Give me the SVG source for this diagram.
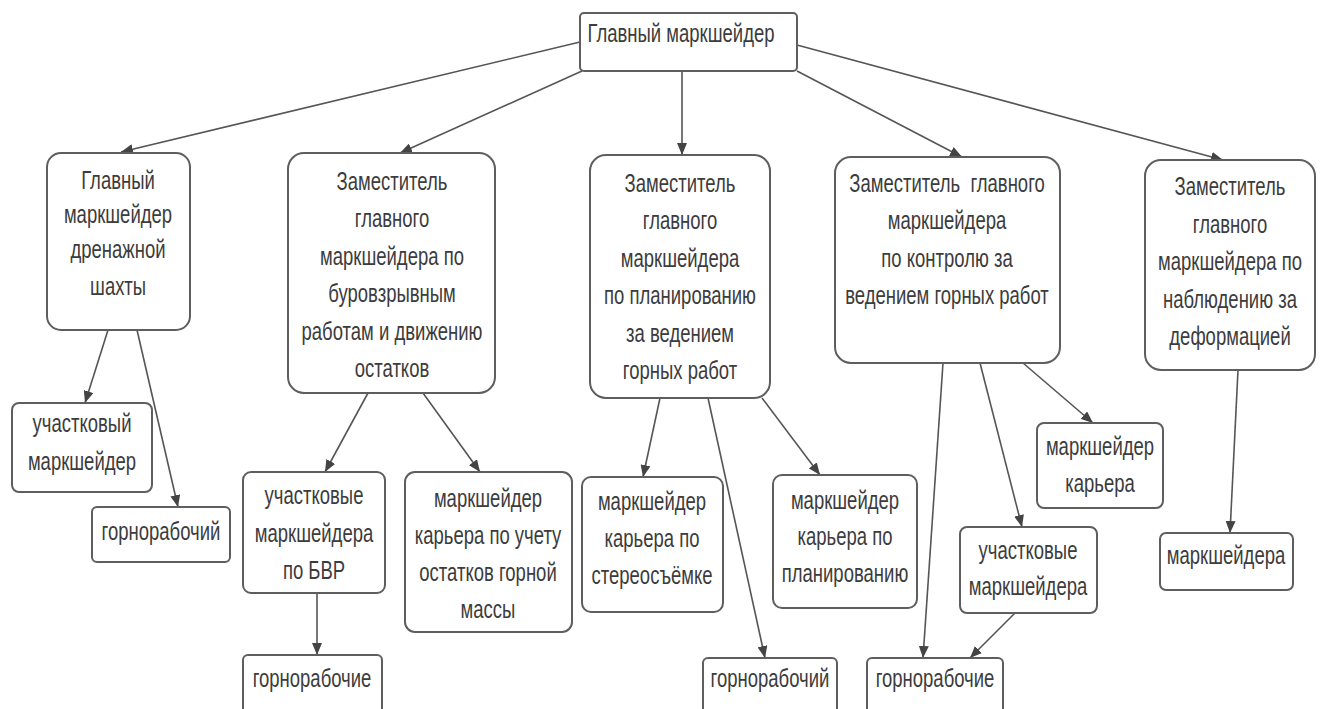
<svg xmlns="http://www.w3.org/2000/svg" width="1327" height="709" viewBox="0 0 1327 709">
<style>
.b{fill:#fff;stroke:#5e5e5e;stroke-width:2}
.t{font-family:"Liberation Sans",Arial,sans-serif;font-size:18.5px;fill:#3c3c3c;text-anchor:middle;white-space:pre}
.c line{stroke:#555;stroke-width:1.6;marker-end:url(#ah)}
</style>
<defs>
<marker id="ah" markerUnits="userSpaceOnUse" markerWidth="12" markerHeight="10" refX="12" refY="5" orient="auto"><path d="M0,0 L12,5 L0,10 z" fill="#444"/></marker>
</defs>
<rect width="1327" height="709" fill="#fff"/>
<g id="connectors" class="c">
<line x1="580" y1="42" x2="121" y2="152"/>
<line x1="582" y1="71" x2="400" y2="153"/>
<line x1="682" y1="71" x2="682" y2="155"/>
<line x1="797" y1="71" x2="962" y2="157"/>
<line x1="797" y1="45" x2="1223" y2="160"/>
<line x1="108" y1="330" x2="85" y2="403"/>
<line x1="137" y1="330" x2="178" y2="507"/>
<line x1="368" y1="393" x2="325" y2="472"/>
<line x1="423" y1="393" x2="480" y2="472"/>
<line x1="317" y1="593" x2="317" y2="655"/>
<line x1="660" y1="398" x2="643" y2="477"/>
<line x1="708" y1="398" x2="765" y2="658"/>
<line x1="762" y1="398" x2="820" y2="475"/>
<line x1="943" y1="363" x2="923" y2="658"/>
<line x1="980" y1="363" x2="1022" y2="527"/>
<line x1="1023" y1="363" x2="1093" y2="423"/>
<line x1="1015" y1="613" x2="970" y2="658"/>
<line x1="1238" y1="370" x2="1230" y2="533"/>
</g>
<g id="top"><rect class="b" x="580" y="13" width="217" height="58" rx="4"/>
<text class="t" transform="translate(681,42) scale(1,1.4)">Главный маркшейдер</text></g>
<g id="a"><rect class="b" x="47" y="153" width="143" height="177" rx="14"/>
<text class="t" transform="translate(118,189) scale(1,1.4)"><tspan x="0" y="0">Главный</tspan><tspan x="0" y="24.3">маркшейдер</tspan><tspan x="0" y="49.3">дренажной</tspan><tspan x="0" y="75.7">шахты</tspan></text></g>
<g id="a1"><rect class="b" x="12" y="403" width="140" height="89" rx="7"/>
<text class="t" transform="translate(82,432) scale(1,1.4)"><tspan x="0" y="0">участковый</tspan><tspan x="0" y="27.1">маркшейдер</tspan></text></g>
<g id="a2"><rect class="b" x="92" y="507" width="138" height="55" rx="5"/>
<text class="t" transform="translate(161,540) scale(1,1.4)">горнорабочий</text></g>
<g id="b"><rect class="b" x="288" y="153" width="207" height="240" rx="16"/>
<text class="t" transform="translate(392,190) scale(1,1.4)"><tspan x="0" y="0">Заместитель</tspan><tspan x="0" y="26.7">главного</tspan><tspan x="0" y="53.4">маркшейдера по</tspan><tspan x="0" y="80.1">буровзрывным</tspan><tspan x="0" y="106.8">работам и движению</tspan><tspan x="0" y="133.5">остатков</tspan></text></g>
<g id="b1"><rect class="b" x="243" y="472" width="142" height="121" rx="8"/>
<text class="t" transform="translate(314,504) scale(1,1.4)"><tspan x="0" y="0">участковые</tspan><tspan x="0" y="26.8">маркшейдера</tspan><tspan x="0" y="53.6">по БВР</tspan></text></g>
<g id="b2"><rect class="b" x="405" y="472" width="167" height="160" rx="10"/>
<text class="t" transform="translate(488,507) scale(1,1.4)"><tspan x="0" y="0">маркшейдер</tspan><tspan x="0" y="26.4">карьера по учету</tspan><tspan x="0" y="52.8">остатков горной</tspan><tspan x="0" y="79.2">массы</tspan></text></g>
<g id="b3"><rect class="b" x="243" y="655" width="139" height="60" rx="5"/>
<text class="t" transform="translate(312,687) scale(1,1.4)">горнорабочие</text></g>
<g id="c"><rect class="b" x="590" y="155" width="180" height="243" rx="16"/>
<text class="t" transform="translate(680,192) scale(1,1.4)"><tspan x="0" y="0">Заместитель</tspan><tspan x="0" y="26.7">главного</tspan><tspan x="0" y="53.4">маркшейдера</tspan><tspan x="0" y="80.1">по планированию</tspan><tspan x="0" y="106.8">за ведением</tspan><tspan x="0" y="133.5">горных работ</tspan></text></g>
<g id="c1"><rect class="b" x="582" y="477" width="141" height="135" rx="9"/>
<text class="t" transform="translate(652,510) scale(1,1.4)"><tspan x="0" y="0">маркшейдер</tspan><tspan x="0" y="26.4">карьера по</tspan><tspan x="0" y="52.8">стереосъёмке</tspan></text></g>
<g id="c2"><rect class="b" x="773" y="475" width="144" height="133" rx="9"/>
<text class="t" transform="translate(845,509) scale(1,1.4)"><tspan x="0" y="0">маркшейдер</tspan><tspan x="0" y="26">карьера по</tspan><tspan x="0" y="52">планированию</tspan></text></g>
<g id="c3"><rect class="b" x="703" y="658" width="134" height="58" rx="5"/>
<text class="t" transform="translate(770,687) scale(1,1.4)">горнорабочий</text></g>
<g id="d"><rect class="b" x="835" y="157" width="225" height="206" rx="16"/>
<text class="t" transform="translate(947,192) scale(1,1.4)"><tspan x="0" y="0">Заместитель  главного</tspan><tspan x="0" y="26.7">маркшейдера</tspan><tspan x="0" y="53.4">по контролю за</tspan><tspan x="0" y="80.1">ведением горных работ</tspan></text></g>
<g id="d1"><rect class="b" x="1037" y="423" width="126" height="85" rx="7"/>
<text class="t" transform="translate(1100,455) scale(1,1.4)"><tspan x="0" y="0">маркшейдер</tspan><tspan x="0" y="26.4">карьера</tspan></text></g>
<g id="d2"><rect class="b" x="960" y="527" width="137" height="86" rx="7"/>
<text class="t" transform="translate(1028,559) scale(1,1.4)"><tspan x="0" y="0">участковые</tspan><tspan x="0" y="25.7">маркшейдера</tspan></text></g>
<g id="d3"><rect class="b" x="867" y="658" width="136" height="58" rx="5"/>
<text class="t" transform="translate(935,687) scale(1,1.4)">горнорабочие</text></g>
<g id="e"><rect class="b" x="1145" y="160" width="170" height="210" rx="16"/>
<text class="t" transform="translate(1230,195) scale(1,1.4)"><tspan x="0" y="0">Заместитель</tspan><tspan x="0" y="26.8">главного</tspan><tspan x="0" y="53.6">маркшейдера по</tspan><tspan x="0" y="80.4">наблюдению за</tspan><tspan x="0" y="107.2">деформацией</tspan></text></g>
<g id="e1"><rect class="b" x="1160" y="533" width="133" height="57" rx="6"/>
<text class="t" transform="translate(1226,564) scale(1,1.4)">маркшейдера</text></g>
</svg>
